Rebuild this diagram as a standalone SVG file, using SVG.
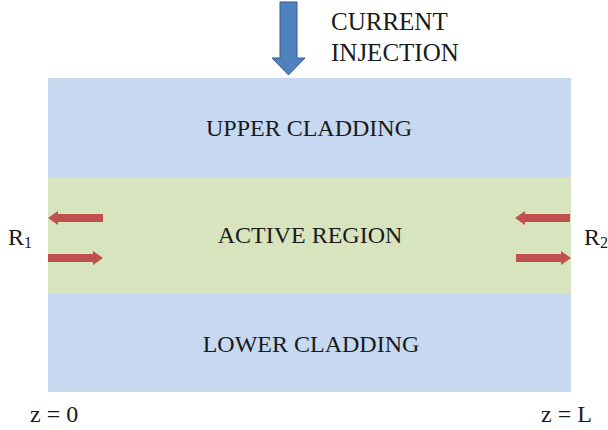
<svg xmlns="http://www.w3.org/2000/svg" width="608" height="430" viewBox="0 0 608 430">
  <style>
    .lbl { font-family: "Liberation Serif", "Times New Roman", serif; font-size: 24px; fill: #1a1a1a; }
    .big { font-size: 25px; }
    .ctr { text-anchor: middle; }
    .clad { fill: #c6d9f1; }
    .active { fill: #d7e4bd; }
    .ray { fill: #c0504d; }
  </style>
  <defs>
    <!-- red ray arrow pointing right, 55px long, tip at x=0 -->
    <path id="rayRight" d="M-55,-4 H-10 V-7 L0,0 L-10,7 V4 H-55 Z"/>
  </defs>
  <rect width="608" height="430" fill="#ffffff"/>

  <g id="upper-cladding">
    <rect class="clad" x="48" y="78" width="523" height="99"/>
    <text class="lbl ctr" x="309" y="136">UPPER CLADDING</text>
  </g>

  <g id="active-region">
    <rect class="active" x="48" y="177" width="523" height="116"/>
    <text class="lbl ctr" x="310" y="243">ACTIVE REGION</text>
  </g>

  <g id="lower-cladding">
    <rect class="clad" x="48" y="293" width="523" height="99"/>
    <text class="lbl ctr" x="311" y="352">LOWER CLADDING</text>
  </g>

  <g id="current-injection">
    <path d="M280,2 H297 V58 H305 L288.5,75 L272,58 H280 Z" fill="#4f81bd" stroke="#385d8a" stroke-width="1"/>
    <text class="lbl big" x="331" y="30">CURRENT</text>
    <text class="lbl big" x="331" y="61">INJECTION</text>
  </g>

  <g id="connectors">
    <!-- left facet -->
    <use href="#rayRight" class="ray" transform="translate(48,218) scale(-1,1)"/>
    <use href="#rayRight" class="ray" transform="translate(103,258)"/>
    <!-- right facet -->
    <use href="#rayRight" class="ray" transform="translate(515,218) scale(-1,1)"/>
    <use href="#rayRight" class="ray" transform="translate(571,258)"/>
  </g>

  <g id="facet-labels">
    <text class="lbl" x="8" y="245">R<tspan font-size="16" dy="3">1</tspan></text>
    <text class="lbl" x="584" y="245">R<tspan font-size="16" dy="3">2</tspan></text>
    <text class="lbl" x="30" y="422">z = 0</text>
    <text class="lbl" x="541" y="422">z = L</text>
  </g>
</svg>
